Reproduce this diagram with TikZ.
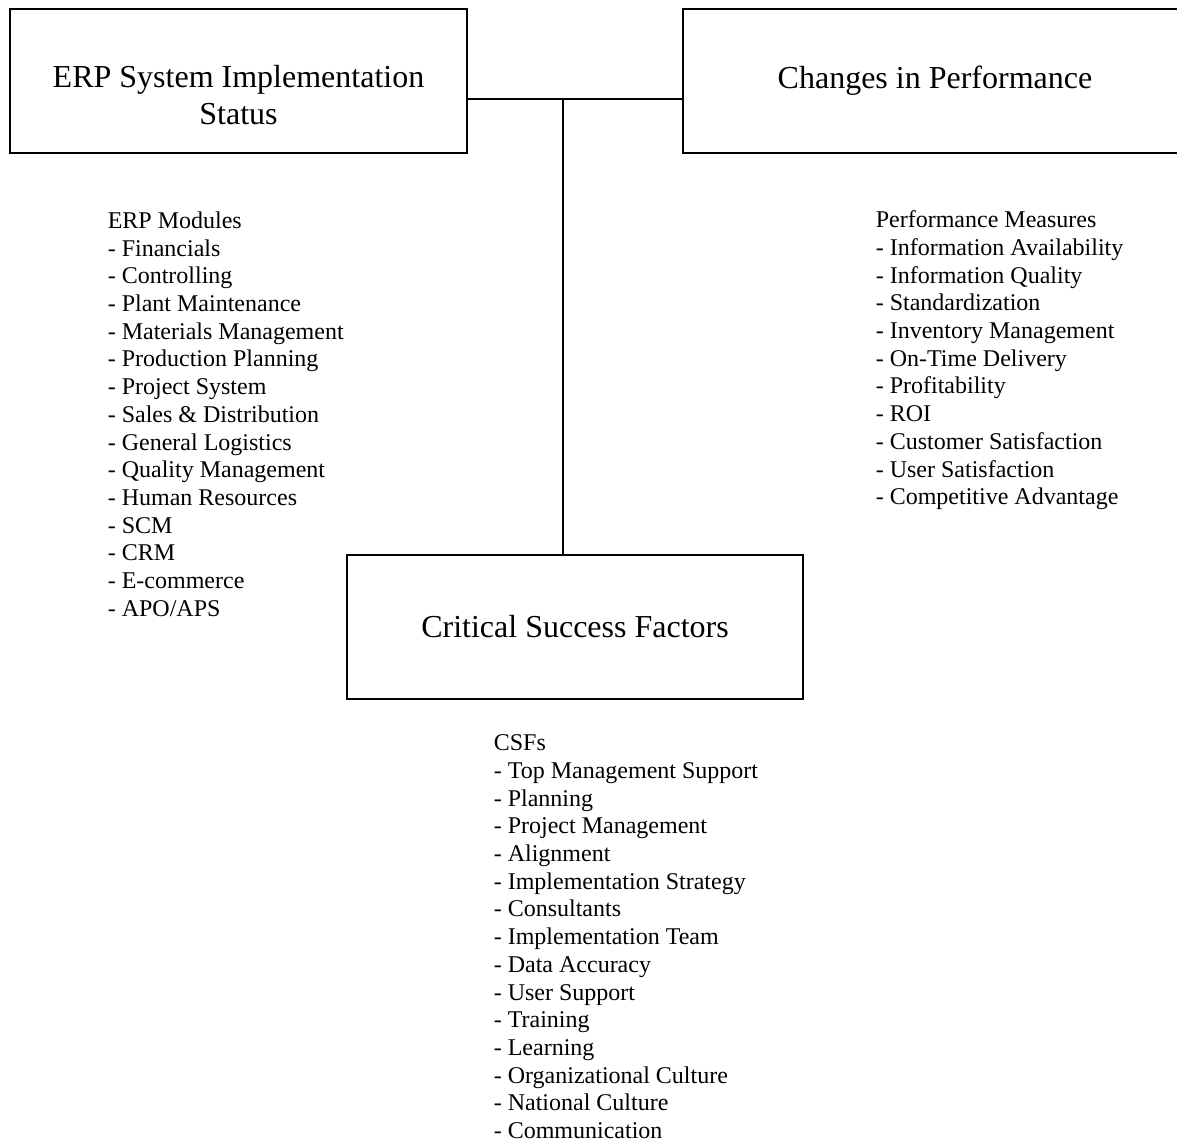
\documentclass[tikz,border=0pt]{standalone}
\usepackage{fontspec}
\setmainfont{Liberation Serif}
\usepackage{tikz}
\tikzset{
	titlebox/.style={draw, rectangle, inner sep=0pt, minimum height=72pt, align=center, font=\fontsize{16}{18.4}\selectfont},
	itemlist/.style={anchor=north west, inner sep=0pt, align=left, font=\fontsize{12}{13.85}\selectfont}
}

\begin{document}
\begin{tikzpicture}[thick, x=0.5pt, y=-0.5pt]
		\clip (0,0) rectangle (1177,1142);
		% the three boxes
			\node[titlebox, minimum width=228.5pt] (erp) at (238.5,81) {\rule{0pt}{25pt}ERP System Implementation\\Status};
			\node[titlebox, minimum width=252pt] (perf) at (935,81) {Changes in Performance};
			\node[titlebox, minimum width=228pt] (csf) at (575,627) {Critical Success Factors};

		% lines joining them
			\coordinate (hub) at (563,99);
			\draw (erp.east |- hub) -- (perf.west |- hub);
			\draw (hub) -- (hub |- csf.north);

		% the lists under the boxes
			\node[itemlist] (modules) at (107,211) {ERP Modules\\- Financials\\- Controlling\\- Plant Maintenance\\- Materials Management\\- Production Planning\\- Project System\\- Sales \& Distribution\\- General Logistics\\- Quality Management\\- Human Resources\\- SCM\\- CRM\\- E-commerce\\- APO/APS};
			\node[itemlist] (measures) at (875,210) {Performance Measures\\- Information Availability\\- Information Quality\\- Standardization\\- Inventory Management\\- On-Time Delivery\\- Profitability\\- ROI\\- Customer Satisfaction\\- User Satisfaction\\- Competitive Advantage};
			\node[itemlist] (csfs) at (493,734) {CSFs\\- Top Management Support\\- Planning\\- Project Management\\- Alignment\\- Implementation Strategy\\- Consultants\\- Implementation Team\\- Data Accuracy\\- User Support\\- Training\\- Learning\\- Organizational Culture\\- National Culture\\- Communication};
	\end{tikzpicture}
\end{document}
